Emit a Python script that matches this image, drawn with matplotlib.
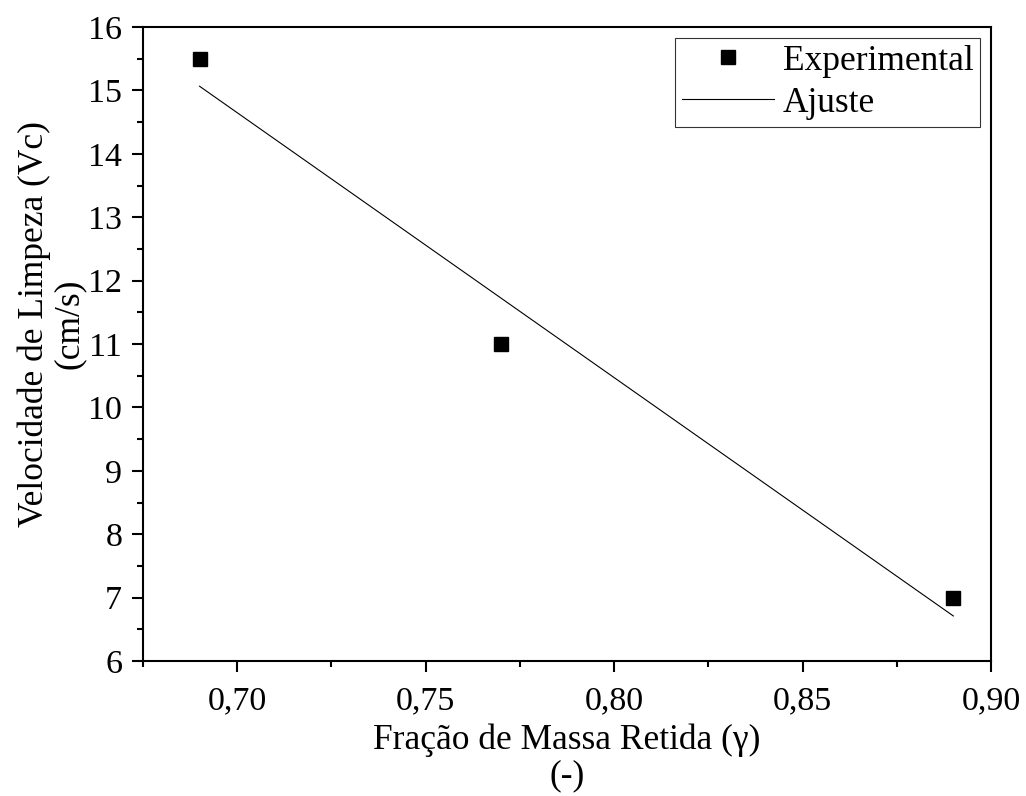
import numpy as np
import matplotlib
matplotlib.use("Agg")
import matplotlib.pyplot as plt
from matplotlib.ticker import MultipleLocator, FuncFormatter

x_exp = [0.69, 0.77, 0.89]
y_exp = [15.5, 11.0, 7.0]

plt.rcParams['font.family'] = ['Liberation Serif', 'DejaVu Serif']

FS = 25.5
TFS = 24.5
fig = plt.figure(figsize=(10.26, 7.96), dpi=100)
ax = fig.add_axes([143/1026, 1-661/796, (991-143)/1026, (661-27)/796])

slope, intercept = np.polyfit(x_exp, y_exp, 1)
xf = np.array([min(x_exp), max(x_exp)])
yf = slope * xf + intercept

ax.plot(x_exp, y_exp, 's', color='black', markersize=9.6, label='Experimental')
ax.plot(xf, yf, '-', color='black', linewidth=0.8, label='Ajuste')

ax.set_xlim(0.675, 0.90)
ax.set_ylim(6, 16)
ax.xaxis.set_major_locator(MultipleLocator(0.05))
ax.xaxis.set_minor_locator(MultipleLocator(0.025))
ax.yaxis.set_major_locator(MultipleLocator(1))
ax.yaxis.set_minor_locator(MultipleLocator(0.5))
ax.xaxis.set_major_formatter(FuncFormatter(lambda v, p: f"{v:.2f}".replace('.', ',')))
ax.yaxis.set_major_formatter(FuncFormatter(lambda v, p: f"{v:.0f}"))

for s in ax.spines.values():
    s.set_linewidth(1.5)
ax.tick_params(which='major', direction='out', length=8, width=1.5, labelsize=TFS,
               top=False, right=False)
ax.tick_params(axis='x', which='major', pad=10)
ax.tick_params(axis='y', which='major', pad=7)
ax.tick_params(which='minor', direction='out', length=4.5, width=1.5, top=False, right=False)

ax.set_xlabel('Fração de Massa Retida (γ)\n(-)', fontsize=FS, linespacing=1.1, labelpad=5)
ax.set_ylabel('Velocidade de Limpeza (Vc)\n(cm/s)', fontsize=FS, linespacing=1.1)
ax.yaxis.set_label_coords(-0.067, 0.532)

leg = ax.legend(loc='upper right', fontsize=FS, frameon=True, fancybox=False,
                edgecolor='black', handlelength=2.6, borderpad=0.2,
                labelspacing=0.25, handletextpad=0.25, borderaxespad=0.3)
leg.get_frame().set_linewidth(0.8)

fig.savefig('out.png', dpi=100)
